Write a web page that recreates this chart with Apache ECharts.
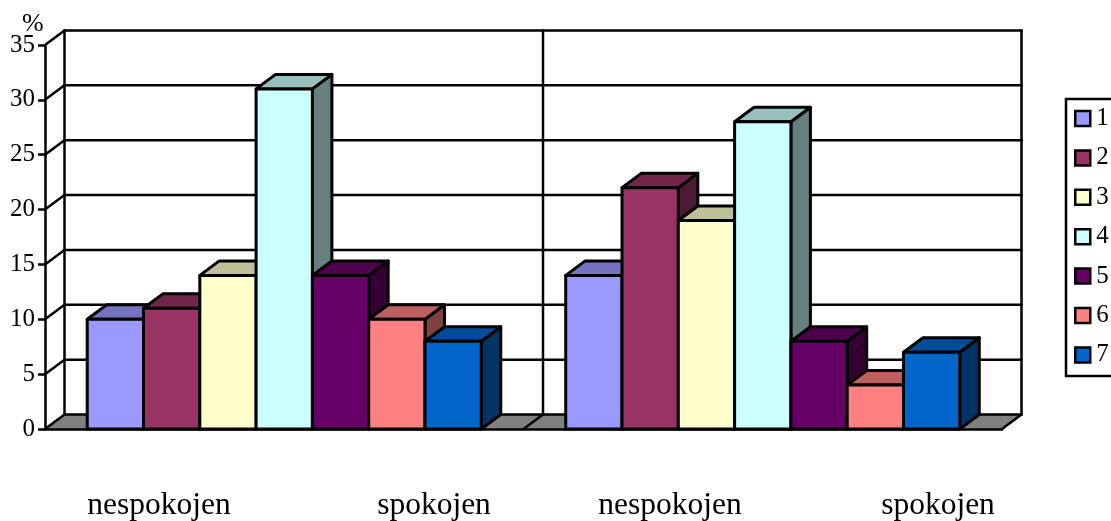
<!DOCTYPE html>
<html>
<head>
<meta charset="utf-8">
<style>
html, body { margin: 0; padding: 0; background: #fff; }
#chart { width: 1111px; height: 521px; overflow: hidden; }
</style>
<script src="https://cdn.jsdelivr.net/npm/echarts@6/dist/echarts.min.js"></script>
</head>
<body>
<div id="chart"></div>
<script>
const groups = ['a', 'b'];
const seriesNames = ['1', '2', '3', '4', '5', '6', '7'];
const groupA = [10, 11, 14, 31, 14, 10, 8];
const groupB = [14, 22, 19, 28, 8, 4, 7];
const colors = ['#9999ff', '#993366', '#ffffcc', '#ccffff', '#660066', '#ff8080', '#0066cc'];
const yTicks = [0, 5, 10, 15, 20, 25, 30, 35];
const bottomLabels = ['nespokojen', 'spokojen', 'nespokojen', 'spokojen'];

const FONT = 'Liberation Serif';
const DX = 19.5;   // depth of the fake 3d
const DY = -14.5;
const LW = 2.5;
const labelX = [159, 434, 670, 938];

const chart = echarts.init(document.getElementById('chart'), null, { renderer: 'canvas' });

const shade = (hex, k) => {
    const c = echarts.color.parse(hex);
    return 'rgb(' + Math.round(c[0] * k) + ',' + Math.round(c[1] * k) + ',' + Math.round(c[2] * k) + ')';
};

const line = (x1, y1, x2, y2) => ({
    type: 'line',
    shape: { x1, y1, x2, y2 },
    style: { stroke: '#000', lineWidth: LW, fill: null, lineCap: 'round' }
});

// side wall + back wall grid line, one per y tick
const renderWall = (params, api) => {
    const cs = params.coordSys;
    const y = api.coord([0, api.value(0)])[1];
    return {
        type: 'group',
        children: [
            line(cs.x, y, cs.x + DX, y + DY),
            line(cs.x + DX, y + DY, cs.x + cs.width + DX, y + DY)
        ]
    };
};

const renderFloor = (params, api) => {
    const cs = params.coordSys;
    const y0 = api.coord([0, 0])[1];
    const top = api.coord([0, 35])[1] + DY;
    const mid = cs.x + cs.width / 2;
    const right = cs.x + cs.width;
    return {
        type: 'group',
        children: [
            {
                type: 'polygon',
                shape: { points: [[cs.x, y0], [cs.x + DX, y0 + DY], [right + DX, y0 + DY], [right, y0]] },
                style: { fill: '#808080' }
            },
            line(cs.x + DX, y0 + DY, cs.x + DX, top),
            line(mid + DX, y0 + DY, mid + DX, top),
            line(right + DX, y0 + DY, right + DX, top),
            line(mid, y0, mid + DX, y0 + DY),
            line(right, y0, right + DX, y0 + DY)
        ]
    };
};

const makeBarRenderer = (idx) => (params, api) => {
    const band = api.size([1, 0])[0];
    const w = band / 8.5;
    const c = api.coord([api.value(0), api.value(1)]);
    const y0 = api.coord([api.value(0), 0])[1];
    const x = c[0] + (idx - 3.5) * w;
    const y = c[1];
    const col = colors[idx];
    const edge = { stroke: '#000', lineWidth: 3, lineJoin: 'round' };
    return {
        type: 'group',
        children: [
            {
                type: 'polygon',
                shape: { points: [[x + w, y], [x + w + DX, y + DY], [x + w + DX, y0 + DY], [x + w, y0]] },
                style: { fill: shade(col, 0.5), ...edge }
            },
            {
                type: 'polygon',
                shape: { points: [[x, y], [x + DX, y + DY], [x + w + DX, y + DY], [x + w, y]] },
                style: { fill: shade(col, 0.75), ...edge }
            },
            {
                type: 'rect',
                shape: { x, y, width: w, height: y0 - y },
                style: { fill: col, ...edge }
            }
        ]
    };
};

const barSeries = seriesNames.map((name, i) => ({
    type: 'custom',
    name,
    z: 3,
    clip: false,
    renderItem: makeBarRenderer(i),
    itemStyle: { color: colors[i] },
    encode: { x: 0, y: 1 },
    data: [[0, groupA[i]], [1, groupB[i]]]
}));

const option = {
    animation: false,
    backgroundColor: '#fff',
    textStyle: { fontFamily: FONT, color: '#000' },
    grid: { left: 45, top: 45, width: 957, height: 384 },
    xAxis: {
        type: 'category',
        data: groups,
        z: 10,
        axisLine: { lineStyle: { color: '#000', width: LW } },
        axisTick: { length: 7, lineStyle: { color: '#000', width: LW } },
        axisLabel: { show: false },
        splitLine: { show: false }
    },
    yAxis: {
        type: 'value',
        min: 0,
        max: 35,
        interval: 5,
        z: 10,
        axisLine: { show: true, lineStyle: { color: '#000', width: LW } },
        axisTick: { show: true, length: 7, lineStyle: { color: '#000', width: LW } },
        axisLabel: { margin: 10, fontFamily: FONT, fontSize: 25, color: '#000' },
        splitLine: { show: false }
    },
    legend: {
        orient: 'vertical',
        left: 1066,
        top: 99,
        data: seriesNames,
        icon: 'rect',
        itemWidth: 15,
        itemHeight: 15,
        itemGap: 14.4,
        padding: [7, 14, 8.6, 8],
        borderColor: '#000',
        borderWidth: LW,
        selectedMode: false,
        itemStyle: { borderColor: '#000', borderWidth: LW },
        textStyle: { fontFamily: FONT, fontSize: 25, lineHeight: 22, color: '#000', padding: [0, 0, 0, 1] }
    },
    graphic: [
        {
            type: 'text',
            x: 22, y: 11,
            style: { text: '%', font: '26px "Liberation Serif"', fill: '#000' }
        },
        ...bottomLabels.map((text, i) => ({
            type: 'text',
            x: labelX[i], y: 506,
            style: { text, font: '31.5px "Liberation Serif"', fill: '#000', align: 'center', verticalAlign: 'middle' }
        }))
    ],
    series: [
        {
            type: 'custom', name: 'floor', z: 1, clip: false, silent: true,
            renderItem: renderFloor,
            encode: { y: 0 },
            data: [[0]]
        },
        {
            type: 'custom', name: 'wall', z: 2, clip: false, silent: true,
            renderItem: renderWall,
            encode: { y: 0 },
            data: yTicks.map(v => [v])
        },
        ...barSeries
    ]
};

chart.setOption(option);
</script>
</body>
</html>
